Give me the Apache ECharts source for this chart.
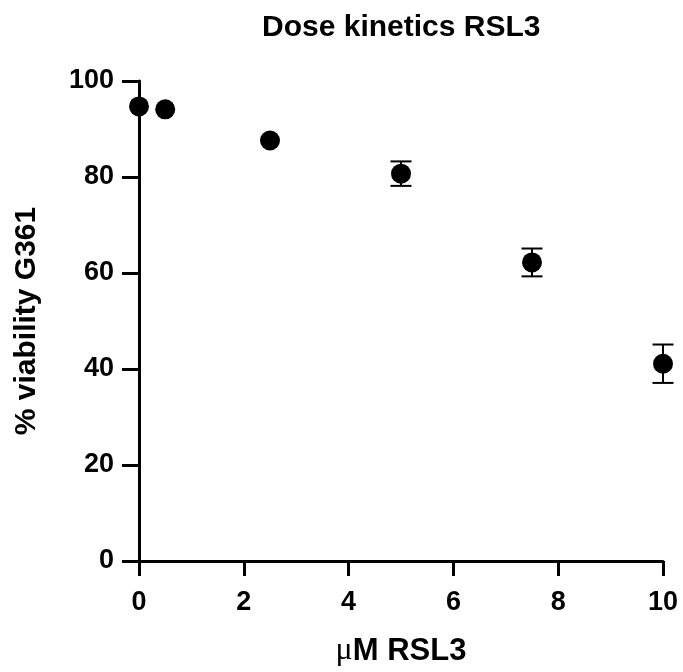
<!DOCTYPE html>
<html>
<head>
<meta charset="utf-8">
<script src="https://cdn.jsdelivr.net/npm/echarts@6/dist/echarts.min.js"></script>
<style>
html,body{margin:0;padding:0;background:#fff;}
#chart{width:683px;height:672px;}
</style>
</head>
<body>
<div id="chart"></div>
<script>
const titleText = 'Dose kinetics RSL3';
const xName = 'μM RSL3';
const yName = '% viability G361';
const doses = [0, 0.5, 2.5, 5, 7.5, 10];
const viability = [94.7, 94.1, 87.6, 80.7, 62.2, 41.1];
const errors = [0, 0, 0, 2.55, 2.9, 4.0];

const FONT = '"Liberation Sans", Arial, sans-serif';
const chart = echarts.init(document.getElementById('chart'), null, {renderer: 'canvas'});

const pointData = doses.map((d, i) => [d, viability[i]]);
const errData = doses.map((d, i) => [d, viability[i], errors[i]]);

chart.setOption({
  animation: false,
  backgroundColor: '#fff',
  title: {
    text: titleText,
    left: 257,
    top: 8,
    textStyle: {fontFamily: FONT, fontWeight: 'bold', fontSize: 30, color: '#000'}
  },
  grid: {left: 139, right: 20, top: 81, bottom: 109, containLabel: false},
  xAxis: {
    type: 'value',
    min: 0, max: 10, interval: 2,
    name: '{mu|μ}M RSL3',
    nameLocation: 'middle',
    nameGap: 74,
    nameTextStyle: {
      fontFamily: FONT, fontWeight: 'bold', fontSize: 31, color: '#000',
      rich: {
        mu: {fontFamily: '"Liberation Serif", "DejaVu Serif", serif', fontWeight: 'normal', fontSize: 32, color: '#000'}
      }
    },
    axisLine: {show: true, onZero: false, lineStyle: {color: '#000', width: 3}},
    axisTick: {show: true, length: 15, lineStyle: {color: '#000', width: 3}},
    axisLabel: {fontFamily: FONT, fontWeight: 'bold', fontSize: 27, color: '#000', margin: 28},
    splitLine: {show: false}
  },
  yAxis: {
    type: 'value',
    min: 0, max: 100, interval: 20,
    name: yName,
    nameLocation: 'middle',
    nameGap: 97,
    nameRotate: 90,
    nameTextStyle: {fontFamily: FONT, fontWeight: 'bold', fontSize: 30, color: '#000'},
    axisLine: {show: true, onZero: false, lineStyle: {color: '#000', width: 3}},
    axisTick: {show: true, length: 17, lineStyle: {color: '#000', width: 3}},
    axisLabel: {fontFamily: FONT, fontWeight: 'bold', fontSize: 27, color: '#000', margin: 25},
    splitLine: {show: false}
  },
  series: [
    {
      type: 'custom',
      data: errData,
      z: 3,
      renderItem: function (params, api) {
        const x = api.value(0), y = api.value(1), e = api.value(2);
        if (!e) return null;
        const top = api.coord([x, y + e]);
        const bot = api.coord([x, y - e]);
        const hw = 10.5;
        const style = {stroke: '#000', lineWidth: 2};
        return {
          type: 'group',
          children: [
            {type: 'line', shape: {x1: top[0], y1: top[1], x2: bot[0], y2: bot[1]}, style: style},
            {type: 'line', shape: {x1: top[0] - hw, y1: top[1], x2: top[0] + hw, y2: top[1]}, style: style},
            {type: 'line', shape: {x1: bot[0] - hw, y1: bot[1], x2: bot[0] + hw, y2: bot[1]}, style: style}
          ]
        };
      }
    },
    {
      type: 'scatter',
      data: pointData,
      symbol: 'circle',
      symbolSize: 20,
      z: 4,
      itemStyle: {color: '#000', opacity: 1},
      emphasis: {disabled: true}
    }
  ]
});
</script>
</body>
</html>
